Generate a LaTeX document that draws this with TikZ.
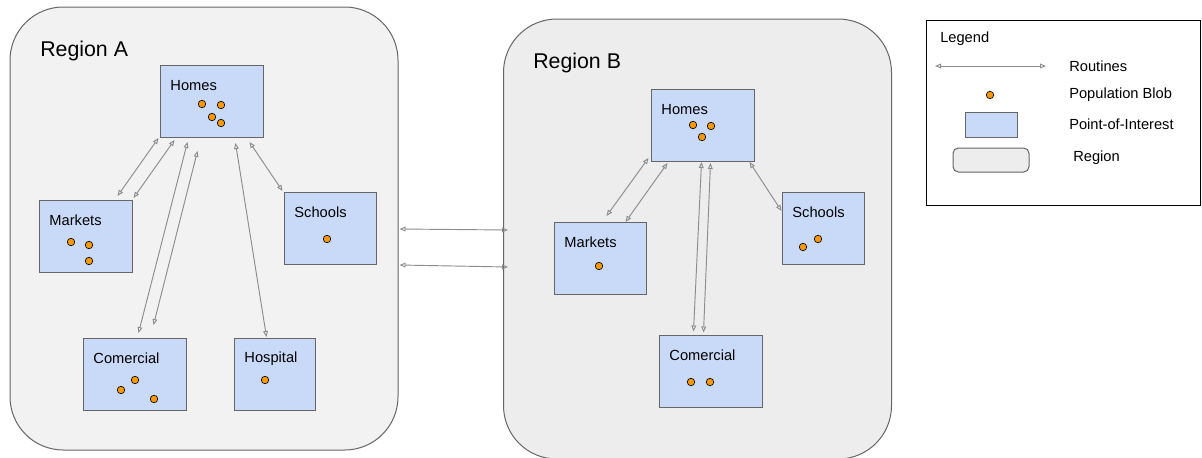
\documentclass[tikz,border=0pt]{standalone}
\usepackage{fontspec}
\setmainfont{Liberation Sans}
\usepackage{tikz}
\usetikzlibrary{arrows.meta,positioning,calc}

\definecolor{poiblue}{HTML}{C9DAF8}
\definecolor{blobor}{HTML}{FF9900}
\definecolor{edgegray}{HTML}{666666}
\definecolor{routegray}{HTML}{8C8C8C}

\begin{document}
\begin{tikzpicture}[
    x=0.75pt, y=-0.75pt,
    region/.style={draw=edgegray, rounded corners=40pt, line width=0.75pt, minimum width=291pt},
    regtext/.style={anchor=west, inner sep=0pt, font=\fontsize{16}{19}\selectfont},
    poi/.style={draw=edgegray, fill=poiblue, line width=0.75pt, minimum height=54pt, inner sep=0pt},
    poitext/.style={anchor=west, inner sep=0pt, xshift=8pt, yshift=-15.5pt, font=\fontsize{11}{13}\selectfont},
    blob/.style={circle, draw=black, fill=blobor, line width=0.5pt, minimum size=5.6pt, inner sep=0pt},
    route/.style={{Triangle[open,length=4.5pt,width=3.6pt]}-{Triangle[open,length=4.5pt,width=3.6pt]}, draw=routegray, line width=0.7pt},
    lgtext/.style={anchor=west, inner sep=0pt, font=\fontsize{11}{13}\selectfont}
  ]
    \useasboundingbox (0,0) rectangle (1202,457);

    % regions
    \node[region, fill=black!5, minimum height=332.25pt] (rA) at (204,228.5) {};
    \node[region, fill=black!7, minimum height=330pt] (rB) at (697.5,239) {};
    \node[regtext] (lblA) at (40,51) {Region A};
    \node[regtext] (lblB) at (533,63) {Region B};

    % points of interest, region A
    \node[poi, minimum width=77.25pt, label={[poitext]north west:Homes}] (hA) at (211.5,101.5) {};
    \node[poi, minimum width=69.75pt, label={[poitext]north west:Markets}] (mkA) at (85.5,236.5) {};
    \node[poi, minimum width=69pt, label={[poitext]north west:Schools}] (scA) at (330,228.5) {};
    \node[poi, minimum width=77.25pt, label={[poitext]north west:Comercial}] (coA) at (134.5,374.5) {};
    \node[poi, minimum width=60.75pt, label={[poitext]north west:Hospital}] (hoA) at (274.5,374.5) {};

    % points of interest, region B
    \node[poi, minimum width=77.25pt, label={[poitext]north west:Homes}] (hB) at (702.5,125.5) {};
    \node[poi, minimum width=69pt, label={[poitext]north west:Markets}] (mkB) at (600,258.5) {};
    \node[poi, minimum width=61.5pt, label={[poitext]north west:Schools}] (scB) at (823,228.5) {};
    \node[poi, minimum width=77.25pt, label={[poitext]north west:Comercial}] (coB) at (710.5,371) {};

    % population blobs
    \foreach \p [count=\k] in {(202,104),(221,105),(212,117),(221,123),
        (71,242),(89,245),(89,261),(327,239),
        (121,390),(135,380),(154,399),(265,380),
        (693,125),(711,126),(702,137),(599,266),
        (803,247),(818,239),(691,382),(710,382)}
      \node[blob] (blob\k) at \p {};

    % routines, region A
    \draw[route] ($(hA.south west)+(-1,0)$) -- ($(mkA.north west)+(79,-4)$);
    \draw[route] ($(hA.south west)+(15,2)$) -- ($(mkA.north east)+(1,-2)$);
    \draw[route] ($(hA.south west)+(28,4)$) -- ($(coA.north west)+(56,-5)$);
    \draw[route] ($(hA.south west)+(38,13)$) -- ($(coA.north west)+(71,-13)$);
    \draw[route] ($(hA.south west)+(76,5)$) -- ($(hoA.north west)+(33,-1)$);
    \draw[route] ($(hA.south west)+(90,4)$) -- ($(scA.north west)+(-1,-1)$);

    % routines between regions
    \draw[route] ($(rA.east)+(1,0.5)$) -- ($(rB.west)+(5,-9)$);
    \draw[route] ($(rA.east)+(1,36.5)$) -- ($(rB.west)+(5,28)$);

    % routines, region B
    \draw[route] ($(hB.south west)+(-2,-4)$) -- ($(mkB.north west)+(53,-6)$);
    \draw[route] ($(hB.south west)+(17,1)$) -- ($(mkB.north west)+(72,0)$);
    \draw[route] ($(hB.south west)+(51,0)$) -- ($(coB.north west)+(35,-3)$);
    \draw[route] ($(hB.south west)+(60,1)$) -- ($(coB.north west)+(45,-2)$);
    \draw[route] ($(hB.south east)+(-5,0)$) -- ($(scB.north west)+(0,19)$);

    % legend
    \node[draw=black, line width=0.75pt, minimum width=205pt, minimum height=138.75pt] (lg) at (1063.5,112.5) {};
    \node[lgtext] (lgtitle) at (940,39) {Legend};
    \coordinate (lgL) at (935,66);
    \coordinate (lgR) at (1046,66);
    \draw[route] (lgL) -- (lgR);
    \node[lgtext] (lgroute) at (1069,66) {Routines};
    \node[blob] (lgblob) at (990,95) {};
    \node[lgtext] (lgpop) at (1069,95) {Population Blob};
    \node[poi, minimum width=39pt, minimum height=18.75pt] (lgpoi) at (991,124.5) {};
    \node[lgtext] (lgpoitxt) at (1069,124) {Point-of-Interest};
    \node[draw=edgegray, fill=black!7, rounded corners=4pt, line width=0.75pt, minimum width=57pt, minimum height=18pt] (lgreg) at (991,160) {};
    \node[lgtext] (lgregtxt) at (1073,158) {Region};
  \end{tikzpicture}
\end{document}
